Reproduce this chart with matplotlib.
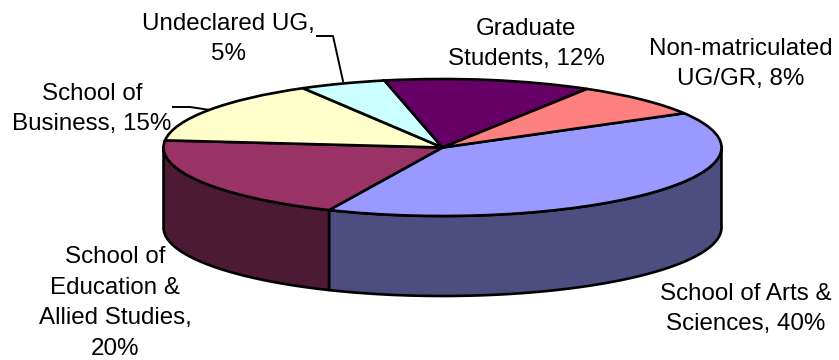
import numpy as np
import matplotlib
matplotlib.use("Agg")
import matplotlib.pyplot as plt

categories = ["School of Arts &\nSciences, 40%", "School of\nEducation &\nAllied Studies,\n20%",
              "School of\nBusiness, 15%", "Undeclared UG,\n5%", "Graduate\nStudents, 12%",
              "Non-matriculated\nUG/GR, 8%"]
values = [40, 20, 15, 5, 12, 8]
top_colors = ["#9999FF", "#993366", "#FFFFCC", "#CCFFFF", "#660066", "#FF8080"]
side_colors = ["#4D4D80", "#4D1A33"]
W, H = 839, 360
CX, CY, RX, RY, DEPTH = 442.5, 147.5, 279.0, 68.5, 80.0
START = 30.0
label_xy = [(746, 309), (115, 303), (92, 109), (228, 39), (526, 44), (741, 64)]

fig = plt.figure(figsize=(W / 100, H / 100), dpi=100)
ax = fig.add_axes([0, 0, 1, 1])
plt.rcParams['font.family'] = ['Liberation Sans', 'DejaVu Sans']

d = DEPTH / RY
edges = START - 360 * np.cumsum([0] + values) / sum(values)

# side walls: visible lower half of the rim
for i in range(2):
    a = np.radians(np.linspace(edges[i], edges[i + 1], 200))
    a = a[np.sin(a) <= 0.02]
    x, y = np.cos(a), np.sin(a)
    ax.fill(np.r_[x, x[::-1]], np.r_[y, y[::-1] - d], fc=side_colors[i], ec="black", lw=1.9, zorder=1, joinstyle="round")

ax.pie(values, colors=top_colors, startangle=START, counterclock=False, radius=1,
       wedgeprops=dict(edgecolor="black", linewidth=1.9))
ax.set_aspect("auto")
ax.set_xlim((0 - CX) / RX, (W - CX) / RX)
ax.set_ylim((CY - H) / RY, CY / RY)
ax.axis("off")

def P(px, py):
    return (px - CX) / RX, (CY - py) / RY

for pts in ([(317, 36), (333, 36), (343, 81)], [(173, 107), (190, 107), (210, 110)]):
    xy = np.array([P(*p) for p in pts])
    ax.plot(xy[:, 0], xy[:, 1], color="black", lw=1.4, zorder=0.5)

for label, (lx, ly) in zip(categories, label_xy):
    ax.text(*P(lx, ly), label, ha="center", va="center", fontsize=17.4, color="black",
            linespacing=1.52, family=['Liberation Sans', 'DejaVu Sans'])

fig.savefig("out.png", dpi=100, facecolor="white")
